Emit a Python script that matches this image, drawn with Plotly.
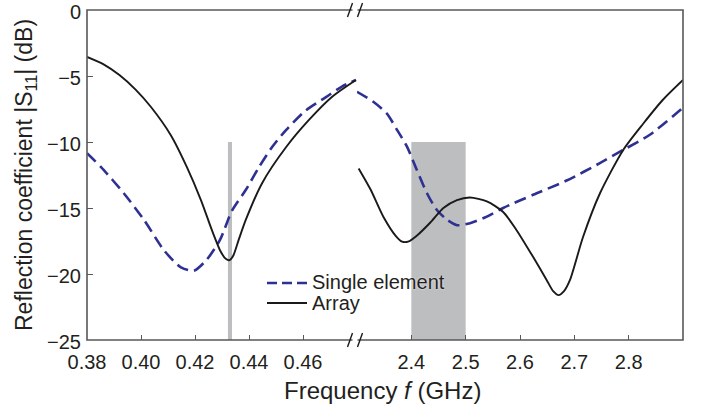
import plotly.graph_objects as go

# ---------------- data ----------------
# Low band (GHz)
f_single_low = [0.38, 0.3852, 0.3937, 0.4011, 0.4085, 0.4148, 0.4196, 0.4244, 0.4293,
                0.4337, 0.4389, 0.4437, 0.4485, 0.4537, 0.4611, 0.4685, 0.4744, 0.4796]
s_single_low = [-10.85, -11.9, -13.9, -15.9, -18.2, -19.5, -19.75, -18.9, -17.4,
                -15.2, -13.6, -11.9, -10.4, -9.1, -7.6, -6.6, -5.8, -5.3]

f_array_low = [0.38, 0.386, 0.392, 0.398, 0.4037, 0.4111, 0.417, 0.4222, 0.4263, 0.4295,
               0.4314, 0.4328, 0.4342, 0.4362, 0.4388, 0.4449, 0.4537, 0.4622, 0.4708, 0.4796]
s_array_low = [-3.55, -4.1, -4.93, -6.03, -7.35, -9.5, -11.9, -14.4, -16.7, -18.3,
               -18.85, -18.95, -18.6, -17.4, -15.9, -13.1, -10.4, -8.33, -6.57, -5.3]

# High band (GHz)
f_single_high = [2.300, 2.330, 2.355, 2.374, 2.392, 2.410, 2.429, 2.447, 2.466, 2.484,
                 2.508, 2.539, 2.569, 2.624, 2.687, 2.747, 2.790, 2.839, 2.900]
s_single_high = [-6.2, -6.95, -7.85, -9.1, -10.35, -12.1, -13.9, -15.15, -15.9, -16.3,
                 -16.15, -15.65, -15.0, -14.0, -12.9, -11.6, -10.6, -9.45, -7.4]

f_array_high = [2.303, 2.325, 2.349, 2.372, 2.383, 2.394, 2.410, 2.435, 2.459, 2.484, 2.508,
                2.539, 2.569, 2.594, 2.624, 2.649, 2.661, 2.671, 2.681, 2.692, 2.716, 2.747,
                2.790, 2.827, 2.863, 2.900]
s_array_high = [-12.0, -13.6, -15.7, -17.15, -17.55, -17.55, -17.1, -16.1, -15.0, -14.4, -14.2,
                -14.5, -15.3, -16.7, -18.7, -20.45, -21.3, -21.6, -21.3, -20.45, -17.2, -13.9,
                -10.6, -8.6, -6.8, -5.3]

# shaded bands
band_low = [0.4322, 0.4337]
band_high = [2.4, 2.5]
band_top = -10
band_bottom = -25

# ticks
x_low_ticks = [0.38, 0.40, 0.42, 0.44, 0.46]
x_low_labels = ["0.38", "0.40", "0.42", "0.44", "0.46"]
x_high_ticks = [2.4, 2.5, 2.6, 2.7, 2.8]
x_high_labels = ["2.4", "2.5", "2.6", "2.7", "2.8"]
y_ticks = [0, -5, -10, -15, -20, -25]

legend_labels = ["Single element", "Array"]

# ---------------- figure ----------------
W, H = 702, 413
ML, MR, MT, MB = 87, 19, 10, 73
PW, PH = W - ML - MR, H - MT - MB
split = 270 / PW

FONT = "Arial, 'Liberation Sans', Helvetica, sans-serif"
TXT = "#231f20"
AX = "#58585a"
BLUE = "#2e3192"
BLACK = "#1a1a1a"
GRAY = "#bdbec0"
DASH = "12px,6px"


def px2paper_x(px):
    return (px - ML) / PW


def px2paper_y(py):
    return (MT + PH - py) / PH


fig = go.Figure()

fig.add_trace(go.Scatter(x=f_single_low, y=s_single_low, mode="lines", name=legend_labels[0],
                         line=dict(color=BLUE, width=2.6, dash=DASH, shape="spline", smoothing=0.7),
                         xaxis="x", yaxis="y"))
fig.add_trace(go.Scatter(x=f_array_low, y=s_array_low, mode="lines", name=legend_labels[1],
                         line=dict(color=BLACK, width=1.9, shape="spline", smoothing=0.7),
                         xaxis="x", yaxis="y"))
fig.add_trace(go.Scatter(x=f_single_high, y=s_single_high, mode="lines", name=legend_labels[0],
                         line=dict(color=BLUE, width=2.6, dash=DASH, shape="spline", smoothing=0.7),
                         xaxis="x2", yaxis="y"))
fig.add_trace(go.Scatter(x=f_array_high, y=s_array_high, mode="lines", name=legend_labels[1],
                         line=dict(color=BLACK, width=1.9, shape="spline", smoothing=0.7),
                         xaxis="x2", yaxis="y"))

shapes = []
# shaded bands (drawn below traces)
shapes.append(dict(type="rect", xref="x", yref="y", x0=band_low[0], x1=band_low[1],
                   y0=band_bottom, y1=band_top, fillcolor=GRAY, line=dict(width=0), layer="below"))
shapes.append(dict(type="rect", xref="x2", yref="y", x0=band_high[0], x1=band_high[1],
                   y0=band_bottom, y1=band_top, fillcolor=GRAY, line=dict(width=0), layer="below"))
# frame
shapes.append(dict(type="rect", xref="paper", yref="paper", x0=0, x1=1, y0=0, y1=1,
                   line=dict(color=AX, width=1.6), fillcolor="rgba(0,0,0,0)", layer="above"))

# axis break marks
for yline in (MT, MT + PH):
    shapes.append(dict(type="line", xref="paper", yref="paper",
                       x0=px2paper_x(352.5), x1=px2paper_x(357.5),
                       y0=px2paper_y(yline), y1=px2paper_y(yline),
                       line=dict(color="white", width=3), layer="above"))
    for cx in (350, 360):
        shapes.append(dict(type="line", xref="paper", yref="paper",
                           x0=px2paper_x(cx - 2.5), x1=px2paper_x(cx + 2.5),
                           y0=px2paper_y(yline + 7), y1=px2paper_y(yline - 7),
                           line=dict(color=BLACK, width=1.4), layer="above"))

# legend samples (manual, to match the tight spacing)
leg_x0, leg_x1 = 267, 307
leg_rows = [282, 303]
shapes.append(dict(type="line", xref="paper", yref="paper",
                   x0=px2paper_x(leg_x0), x1=px2paper_x(leg_x1),
                   y0=px2paper_y(leg_rows[0] + 1), y1=px2paper_y(leg_rows[0] + 1),
                   line=dict(color=BLUE, width=2.6, dash="10px,5px"), layer="above"))
shapes.append(dict(type="line", xref="paper", yref="paper",
                   x0=px2paper_x(leg_x0), x1=px2paper_x(leg_x1),
                   y0=px2paper_y(leg_rows[1]), y1=px2paper_y(leg_rows[1]),
                   line=dict(color=BLACK, width=1.9), layer="above"))

annotations = [
    dict(text="Frequency <i>f</i> (GHz)", xref="paper", yref="paper",
         x=px2paper_x(382), y=px2paper_y(390), xanchor="center", yanchor="middle",
         showarrow=False, font=dict(family=FONT, size=24, color=TXT)),
    dict(text="Reflection coefficient |S<sub>11</sub>| (dB)", xref="paper", yref="paper",
         x=px2paper_x(25), y=px2paper_y(175), xanchor="center", yanchor="middle",
         textangle=-90, showarrow=False, font=dict(family=FONT, size=23, color=TXT)),
]
for lab, row in zip(legend_labels, leg_rows):
    annotations.append(dict(text=lab, xref="paper", yref="paper",
                            x=px2paper_x(310), y=px2paper_y(row), xanchor="left", yanchor="middle",
                            showarrow=False,
                            font=dict(family=FONT, size=20, color=TXT,
                                      shadow="0px 0px 2px white")))

axis_common = dict(showgrid=False, zeroline=False, showline=False, ticks="inside",
                   ticklen=5, tickwidth=1.2, tickcolor=AX, automargin=False,
                   ticklabeloverflow="allow",
                   tickfont=dict(family=FONT, size=20, color=TXT))

fig.update_layout(
    width=W, height=H,
    margin=dict(l=ML, r=MR, t=MT, b=MB, pad=0, autoexpand=False),
    paper_bgcolor="white", plot_bgcolor="white",
    font=dict(family=FONT, color=TXT),
    showlegend=False,
    xaxis=dict(domain=[0, split], range=[0.38, 0.48], tickvals=x_low_ticks,
               ticktext=x_low_labels, anchor="y", ticklabelstandoff=8, **axis_common),
    xaxis2=dict(domain=[split, 1], range=[2.3, 2.9], tickvals=x_high_ticks,
                ticktext=x_high_labels, anchor="y", ticklabelstandoff=8, **axis_common),
    yaxis=dict(domain=[0, 1], range=[-25, 0], tickvals=y_ticks, anchor="x",
               ticklabelstandoff=5, ticklabelshift=2, **dict(axis_common, ticklen=6)),
    shapes=shapes,
    annotations=annotations,
)

fig.write_html("out.html")
